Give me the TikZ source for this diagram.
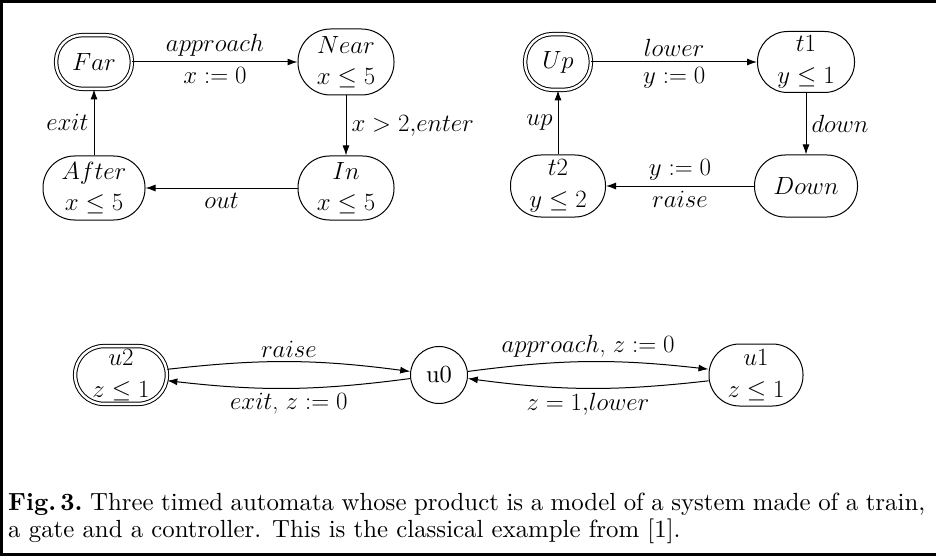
\documentclass[tikz,border=0pt]{standalone}
\usepackage{amsmath}
\usepackage{graphicx}
\usetikzlibrary{arrows.meta}
\newcommand{\capscale}{2.48}
\begin{document}
\begin{tikzpicture}[x=1pt,y=-1pt,
  every node/.style={font=\fontsize{24}{31.5}\selectfont},
  st/.style n args={3}{draw, line width=1pt, minimum width=#1, minimum height=#2,
     rounded corners=#3, align=center, inner sep=0pt},
  dbl/.style={double, double distance=2.4pt},
  circ/.style={draw, line width=1pt, circle, minimum size=#1, inner sep=0pt},
  arr/.style={line width=1pt, -{Latex[length=10pt,width=7pt]}},
  lab/.style={inner sep=5pt},
  captext/.style={font=\fontsize{10}{12}\selectfont, anchor=base west, inner sep=0pt}]
\useasboundingbox (0,0) rectangle (936,556);
\draw[line width=2.6pt] (936,1.3) -- (1.3,1.3) -- (1.3,554.7) -- (936,554.7);

% train
\node[st={75.7pt}{53.7pt}{26pt}, dbl] (far) at (94,62) {$Far$};
\node[st={96pt}{66pt}{32.5pt}] (near) at (346,62) {$Near$\\$x\leq 5$};
\node[st={96pt}{64pt}{31.5pt}] (in) at (346,188) {$In$\\$x\leq 5$};
\node[st={102pt}{64pt}{31.5pt}] (after) at (94,188) {$After$\\$x\leq 5$};
\draw[arr] (far) -- node[lab, above] {$approach$} node[lab, below] {$x:=0$} (near);
\draw[arr] (near) -- node[lab, right] {$x>2{,}enter$} (in);
\draw[arr] (in) -- node[lab, below] {$out$} (after);
\draw[arr] (after) -- node[lab, left] {$exit$} (far);

% gate
\node[st={65.7pt}{55.7pt}{27pt}, dbl] (up) at (558,62) {$Up$};
\node[st={97pt}{61pt}{30pt}] (t1) at (806,62) {$t1$\\$y\leq 1$};
\node[st={103pt}{62pt}{30.5pt}] (down) at (806,186) {$Down$};
\node[st={95pt}{62pt}{30.5pt}] (t2) at (558,186) {$t2$\\$y\leq 2$};
\draw[arr] (up) -- node[lab, above] {$lower$} node[lab, below] {$y:=0$} (t1);
\draw[arr] (t1) -- node[lab, right] {$down$} (down);
\draw[arr] (down) -- node[lab, above] {$y:=0$} node[lab, below] {$raise$} (t2);
\draw[arr] (t2) -- node[lab, left] {$up$} (up);

% controller
\node[st={91.7pt}{57.7pt}{28.5pt}, dbl] (u2) at (121,375) {$u2$\\$z\leq 1$};
\node[circ=57pt, font=\fontsize{10}{12}\selectfont] (u0) at (439,375) {\scalebox{2.45}{u0}};
\node[st={94pt}{62pt}{30.5pt}] (u1) at (756,375) {$u1$\\$z\leq 1$};
\draw[arr] (u2) to[bend left=7] node[lab, above, inner sep=4pt] {$raise$} (u0);
\draw[arr] (u0) to[bend left=7] node[lab, below, inner sep=4pt] {$exit$, $z:=0$} (u2);
\draw[arr] (u0) to[bend left=7] node[lab, above, inner sep=4pt] {$approach$, $z:=0$} (u1);
\draw[arr] (u1) to[bend left=7] node[lab, below, inner sep=4pt] {$z=1{,}lower$} (u0);

% caption
\node[captext] (c1) at (8,510) {\scalebox{\capscale}{\makebox[\dimexpr 917pt*100/248\relax][s]{\hbox{\textbf{Fig.\,3.}} Three timed automata whose product is a model of a system made of a train,}}};
\node[captext] (c2) at (8,537) {\scalebox{\capscale}{a gate and a controller. This is the classical example from [1].}};
\end{tikzpicture}
\end{document}
